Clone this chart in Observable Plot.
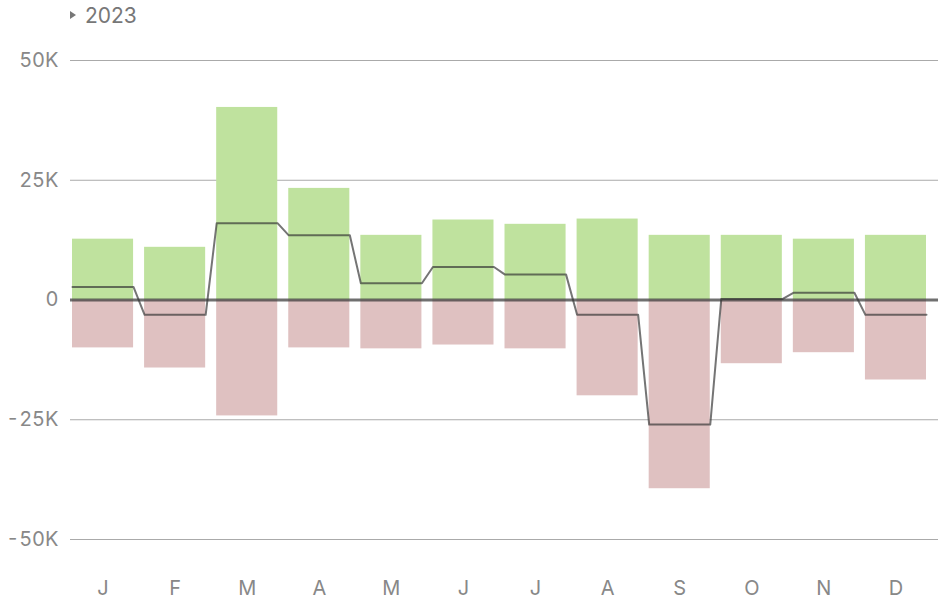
<!DOCTYPE html>
<html>
<head>
<meta charset="utf-8">
<script src="https://cdn.jsdelivr.net/npm/d3@7"></script>
<script src="https://cdn.jsdelivr.net/npm/@observablehq/plot@0.6"></script>
<style>
  html, body { margin: 0; padding: 0; background: #fff; }
  body { width: 951px; height: 601px; position: relative; font-family: Inter, "Noto Sans", sans-serif; overflow: hidden; }
  #hdr { position: relative; height: 30px; }
  #tri { position: absolute; left: 70px; top: 11px; width: 0; height: 0;
         border-left: 6px solid #777; border-top: 4.5px solid transparent; border-bottom: 4.5px solid transparent; }
  #yr { position: absolute; left: 85px; top: 5px; font-size: 21px; line-height: 21px; color: #777; }
  #chart svg { display: block; }
</style>
</head>
<body>
<div id="hdr"><span id="tri"></span><span id="yr">2023</span></div>
<div id="chart"></div>
<script>
const months = ["J","F","M","A","M","J","J","A","S","O","N","D"];
const income  = [12700, 11000, 40200, 23300, 13500, 16700, 15800, 16900, 13500, 13500, 12700, 13500];
const expense = [-10000, -14200, -24200, -10000, -10200, -9400, -10200, -20000, -39400, -13300, -11000, -16700];
const net     = [2700, -3100, 16000, 13500, 3500, 6900, 5300, -3100, -26000, 200, 1500, -3100];
const yTicks  = [-50000, -25000, 0, 25000, 50000];

const pad = 0.0764;
const idx = months.map((_, i) => i);
const incomeBars  = idx.map(i => ({x1: i + pad, x2: i + 1 - pad, v: income[i]}));
const expenseBars = idx.map(i => ({x1: i + pad, x2: i + 1 - pad, v: expense[i]}));
const netLine = idx.flatMap(i => [{x: i + pad, v: net[i]}, {x: i + 1 - pad, v: net[i]}]);

const chart = Plot.plot({
  width: 951,
  height: 571,
  marginLeft: 70,
  marginRight: 13,
  marginTop: 30,
  marginBottom: 62,
  style: {fontFamily: "Inter, 'Noto Sans', sans-serif", fontSize: "20px", color: "#888", background: "#fff"},
  x: {type: "linear", domain: [0, 12], range: [66.5, 931.5]},
  y: {domain: [-50000, 50000]},
  marks: [
    Plot.ruleY(yTicks.filter(d => d !== 0), {stroke: "#aaa", strokeWidth: 1.2}),
    Plot.rectY(incomeBars, {x1: "x1", x2: "x2", y1: 0, y2: "v", fill: "#bfe29e"}),
    Plot.rectY(expenseBars, {x1: "x1", x2: "x2", y1: 0, y2: "v", fill: "#dfc1c1"}),
    Plot.ruleY([0], {stroke: "#333", strokeOpacity: 0.7, strokeWidth: 3}),
    Plot.line(netLine, {x: "x", y: "v", stroke: "#333", strokeOpacity: 0.68, strokeWidth: 2}),
    Plot.axisY({ticks: yTicks, tickSize: 0, tickPadding: 12, tickFormat: d => d === 0 ? "0" : `${d / 1000}K`, label: null, fill: "#888"}),
    Plot.axisX({ticks: idx.map(i => i + 0.5), tickSize: 0, tickPadding: 41, tickFormat: d => months[Math.floor(d)], label: null, fill: "#888"})
  ]
});
document.getElementById("chart").appendChild(chart);
</script>
</body>
</html>
